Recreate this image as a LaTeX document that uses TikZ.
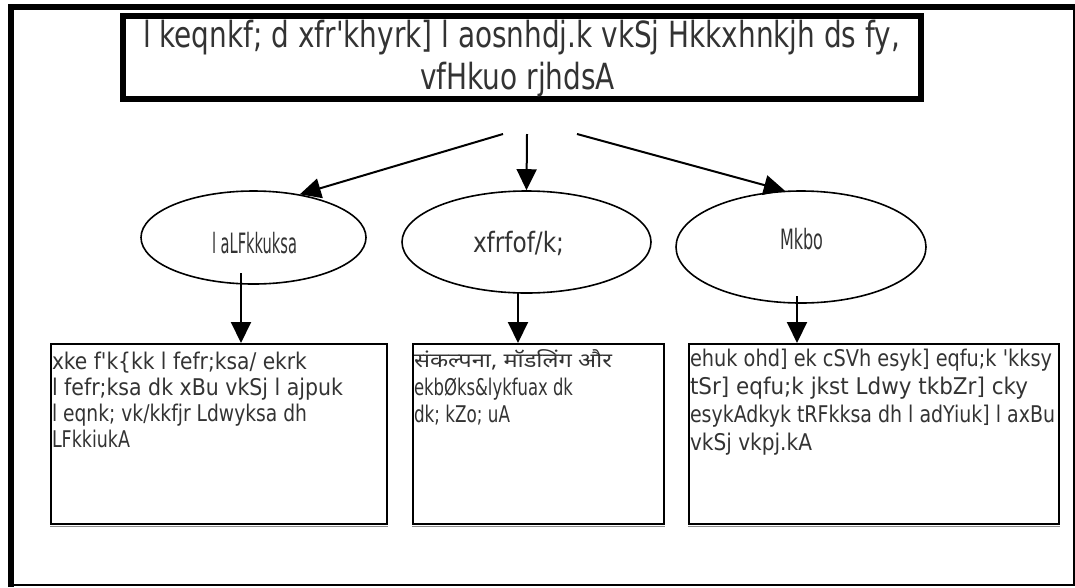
\documentclass[tikz,border=0pt]{standalone}
\usepackage{fontspec}
\usepackage{graphicx}
\setmainfont{DejaVu Sans}
\newfontfamily\deva[Script=Devanagari]{Noto Sans}
\usetikzlibrary{shapes.geometric,arrows.meta}
\newcommand\fitw[2]{\resizebox{#1pt}{\height}{#2}}
\newcommand\qs{\textquotesingle}
\tikzset{
 txt/.style={anchor=base west, inner sep=0pt, outer sep=0pt, text=black!80},
 ttl/.style={txt, font=\fontsize{36}{40}\selectfont},
 elt/.style={txt, font=\fontsize{28}{30}\selectfont},
 bxt/.style={txt, font=\fontsize{23}{26}\selectfont},
 ell/.style={ellipse, draw, line width=1.6pt, inner sep=0pt},
 tbox/.style={rectangle, draw, line width=1.6pt, inner sep=0pt, anchor=north west},
 shad/.style={draw=black!45, line width=1pt},
 arr/.style={line width=2pt, -{Triangle[length=21pt,width=20pt]}},
}
\begin{document}
\begin{tikzpicture}[x=1pt,y=-1pt]
\useasboundingbox (0,0) rectangle (1075,587);
% outer frame
\draw[line width=6pt] (11,587) -- (11,7) -- (1075,7);
\draw[line width=2pt] (11,585) -- (1074,585) -- (1074,7);
% title
\node[rectangle, draw, line width=6pt, inner sep=0pt, anchor=north west,
      minimum width=798pt, minimum height=83pt] (title) at (120,13) {};
\node[ttl] (t1) at (143,47) {\fitw{757}{l keqnkf; d xfr\qs khyrk] l aosnhdj.k vkSj Hkkxhnkjh ds fy,}};
\node[ttl] (t2) at (420,89) {\fitw{195}{vfHkuo rjhdsA}};
% ellipses
\node[ell, minimum width=225pt, minimum height=93pt] (e1) at (253.5,237.5) {};
\node[ell, minimum width=249pt, minimum height=102pt] (e2) at (526.5,242) {};
\node[ell, minimum width=250pt, minimum height=112pt] (e3) at (801,247) {};
\node[elt] (e1t) at (212,253) {\fitw{85}{l aLFkkuksa}};
\node[elt] (e2t) at (473,252) {\fitw{91}{xfrfof/k;}};
\node[elt] (e3t) at (780,249) {\fitw{43}{Mkbo}};
% boxes
\node[tbox, minimum width=336pt, minimum height=180pt] (b1) at (50,343) {};
\node[tbox, minimum width=251pt, minimum height=180pt] (b2) at (412,343) {};
\node[tbox, minimum width=370pt, minimum height=180pt] (b3) at (688,343) {};
\draw[shad] ([shift={(0,2.2)}]b1.south west) -- ([shift={(0,2.2)}]b1.south east);
\draw[shad] ([shift={(0,2.2)}]b2.south west) -- ([shift={(0,2.2)}]b2.south east);
\draw[shad] ([shift={(0,2.2)}]b3.south west) -- ([shift={(0,2.2)}]b3.south east);
% box 1 text
\node[bxt] (b1l1) at (52,369) {\fitw{255}{xke f\qs k\{kk l fefr;ksa/ ekrk}};
\node[bxt] (b1l2) at (52,395) {\fitw{291}{l fefr;ksa dk xBu vkSj l ajpuk}};
\node[bxt] (b1l3) at (52,421) {\fitw{255}{l eqnk; vk/kkfjr Ldwyksa dh}};
\node[bxt] (b1l4) at (52,447) {\fitw{78}{LFkkiukA}};
% box 2 text
\node[txt, font=\deva\fontsize{20}{24}\selectfont] (b2l1) at (414,367) {\fitw{198}{संकल्पना, मॉडलिंग और}};
\node[bxt] (b2l2) at (414,395) {\fitw{159}{ekbØks\&lykfuax dk}};
\node[bxt] (b2l3) at (414,422) {\fitw{96}{dk; kZo; uA}};
% box 3 text
\node[bxt] (b3l1) at (690,366) {\fitw{362}{ehuk ohd] ek cSVh esyk] eqfu;k \qs kksy}};
\node[bxt] (b3l2) at (690,394) {\fitw{338}{tSr] eqfu;k jkst Ldwy tkbZr] cky}};
\node[bxt] (b3l3) at (690,422) {\fitw{365}{esykAdkyk tRFkksa dh l adYiuk] l axBu}};
\node[bxt] (b3l4) at (690,450) {\fitw{122}{vkSj vkpj.kA}};
% arrows
\coordinate (s1) at (503,134);
\coordinate (s2) at (527,134);
\coordinate (s3) at (577,134);
\draw[arr] (s1) -- (e1.43);
\draw[arr] (s2) -- (e2.north);
\draw[arr] (s3) -- (e3.106);
\coordinate (d1) at (241,273);
\coordinate (d2) at (518,293);
\coordinate (d3) at (797,296);
\draw[arr] (d1) -- (d1 |- b1.north);
\draw[arr] (d2) -- (d2 |- b2.north);
\draw[arr] (d3) -- (d3 |- b3.north);
\end{tikzpicture}
\end{document}
